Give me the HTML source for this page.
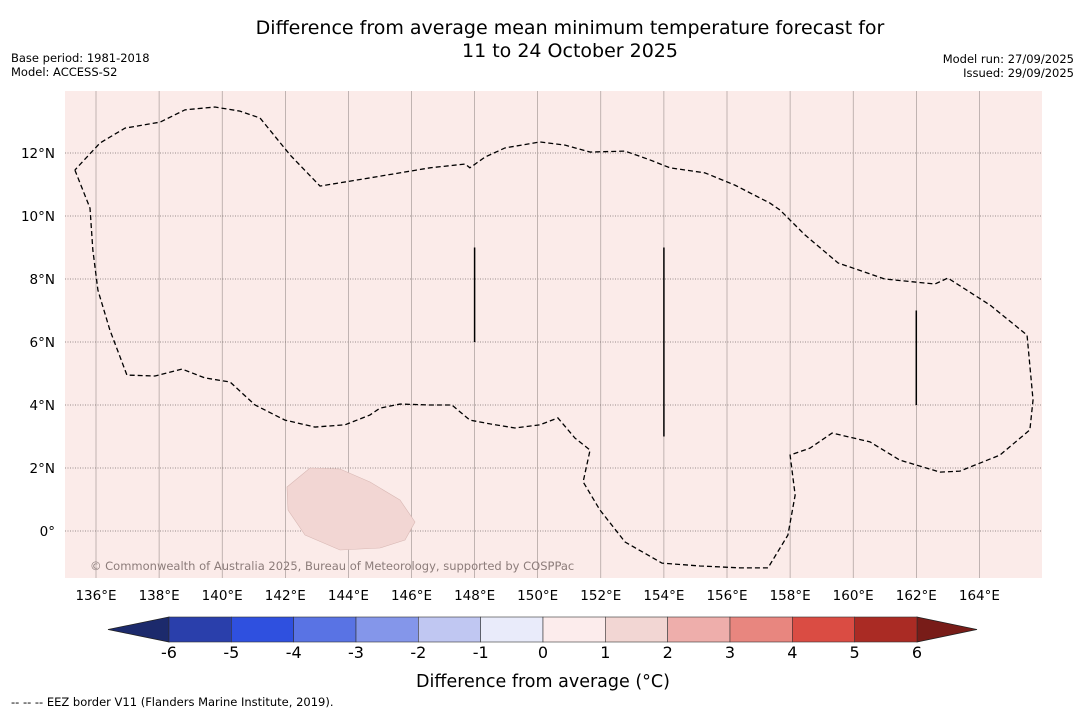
<!DOCTYPE html>
<html><head><meta charset="utf-8">
<style>
body{margin:0;background:#fff;font-family:"DejaVu Sans","Liberation Sans",sans-serif;}
svg{display:block}
</style></head>
<body>
<svg id="chart" width="1085" height="713" xmlns="http://www.w3.org/2000/svg" font-family="DejaVu Sans, Liberation Sans, sans-serif">
<text x="570" y="34" font-size="19" text-anchor="middle">Difference from average mean minimum temperature forecast for</text>
<text x="570" y="57" font-size="19" text-anchor="middle">11 to 24 October 2025</text>
<text x="11" y="62" font-size="11.5">Base period: 1981-2018</text>
<text x="11" y="76" font-size="11.5">Model: ACCESS-S2</text>
<text x="1074" y="63" font-size="11.5" text-anchor="end">Model run: 27/09/2025</text>
<text x="1074" y="77" font-size="11.5" text-anchor="end">Issued: 29/09/2025</text>
<rect x="65" y="91" width="977" height="487" fill="#fbebe9"/>
<g id="grid"></g>
<polygon points="287,487 310,468 340,469 370,482 400,500 415,522 405,540 380,548 340,550 305,535 288,510" fill="#f2d6d3" stroke="#d8b8b4" stroke-width="0.6"/>
<g id="eez"></g>
<text x="90" y="570" font-size="11.5" fill="#8c7c7a">© Commonwealth of Australia 2025, Bureau of Meteorology, supported by COSPPac</text>
<g id="ticks"></g>
<g id="colorbar"></g>
<text x="543" y="687" font-size="17.5" text-anchor="middle">Difference from average (°C)</text>
<text x="11" y="706" font-size="11.5">-- -- -- EEZ border V11 (Flanders Marine Institute, 2019).</text>
</svg>
<script>
const lonTicks=[136,138,140,142,144,146,148,150,152,154,156,158,160,162,164];
const latTicks=[0,2,4,6,8,10,12];
const eezLon=[135.33,135.81,135.9,136.06,136.44,136.98,137.87,138.73,139.45,140.25,141.04,141.99,142.94,143.89,144.68,145.0,145.64,146.59,147.28,147.85,148.49,149.28,150.07,150.64,151.18,151.66,151.44,151.97,152.77,153.94,155.14,156.41,157.3,157.93,158.16,158.0,158.63,159.33,160.53,161.48,162.75,163.38,164.65,165.6,165.7,165.51,164.34,163.0,162.59,161.0,159.52,158.47,157.68,157.36,156.25,155.3,154.19,153.56,152.77,151.66,150.87,150.07,148.96,148.33,147.85,147.7,146.59,144.68,143.1,142.15,141.2,140.56,139.77,138.82,138.03,136.92,136.13,135.33];
const eezLat=[11.46,10.25,8.92,7.65,6.38,4.95,4.92,5.14,4.86,4.73,4.0,3.52,3.3,3.37,3.68,3.9,4.03,4.0,4.0,3.52,3.4,3.27,3.37,3.59,2.95,2.57,1.56,0.67,-0.35,-1.02,-1.11,-1.17,-1.17,-0.13,1.14,2.41,2.63,3.11,2.83,2.25,1.87,1.9,2.41,3.21,4.16,6.22,7.17,8.03,7.84,8.0,8.51,9.4,10.19,10.41,10.98,11.37,11.53,11.78,12.06,12.03,12.25,12.35,12.16,11.87,11.53,11.65,11.53,11.21,10.95,11.94,13.11,13.33,13.46,13.37,12.98,12.79,12.32,11.46];
const segLon=[148,154,162];
const segLat0=[9,9,7];
const segLat1=[6,3,4];
const cbLevels=[-6,-5,-4,-3,-2,-1,0,1,2,3,4,5,6];
const cbColors=["#2a3fab","#2f50df","#5973e4","#8496ea","#c0c7f2","#e9ebfa","#fcecec","#f2d6d3","#eeaeab","#e8867f","#da4c43","#aa2b24"];
const X=lon=>96+(lon-136)*31.55, Y=lat=>531-lat*31.5;
const NS="http://www.w3.org/2000/svg";
function mk(t,a,p){const e=document.createElementNS(NS,t);for(const k in a)e.setAttribute(k,a[k]);p.appendChild(e);return e;}
const grid=document.getElementById('grid'),ticks=document.getElementById('ticks');
lonTicks.forEach(l=>{
 const ln=mk('line',{x1:X(l),x2:X(l),y1:91,y2:578,stroke:'#9a8e8c','stroke-width':0.6},grid);
 
 
 const t=mk('text',{x:X(l),y:600,'font-size':13.5,'text-anchor':'middle'},ticks);t.textContent=l+'°E';
 
 
});
latTicks.forEach(l=>{
 const ln=mk('line',{x1:65,x2:1042,y1:Y(l),y2:Y(l),stroke:'#7a6e6c','stroke-width':0.7,'stroke-dasharray':'1,1.5'},grid);
 
 
 const t=mk('text',{x:55,y:Y(l)+5,'font-size':13.5,'text-anchor':'end'},ticks);t.textContent=l===0?'0°':l+'°N';
 
 
});
const eez=document.getElementById('eez');
const p=mk('polyline',{points:eezLon.map((l,i)=>X(l)+','+Y(eezLat[i])).join(' '),fill:'none',stroke:'#000','stroke-width':1.3,'stroke-dasharray':'5,3'},eez);


segLon.forEach((l,i)=>{
 const s=mk('line',{x1:X(l),x2:X(l),y1:Y(segLat0[i]),y2:Y(segLat1[i]),stroke:'#000','stroke-width':1.5},eez);
 
 
});
const cb=document.getElementById('colorbar');
const C=v=>543+v*62.33, cbTop=617, cbBot=642;
const la=mk('polygon',{points:`${C(-6)},${cbTop} 108,${(cbTop+cbBot)/2} ${C(-6)},${cbBot}`,fill:'#1c2a6c',stroke:'#222','stroke-width':0.8},cb);


const ra=mk('polygon',{points:`${C(6)},${cbTop} 977,${(cbTop+cbBot)/2} ${C(6)},${cbBot}`,fill:'#781c18',stroke:'#222','stroke-width':0.8},cb);


cbColors.forEach((c,i)=>{
 const r=mk('rect',{x:C(cbLevels[i]),y:cbTop,width:C(cbLevels[i+1])-C(cbLevels[i]),height:cbBot-cbTop,fill:c,stroke:'#333','stroke-width':0.6},cb);
 
 
});
cbLevels.forEach(v=>{
 const t=mk('text',{x:C(v),y:658,'font-size':16,'text-anchor':'middle'},cb);t.textContent=v;
 
 
});
</script>
</body></html>
